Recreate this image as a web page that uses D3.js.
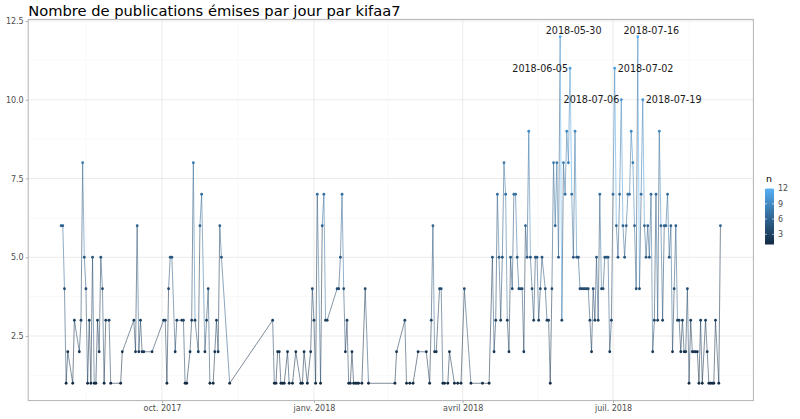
<!DOCTYPE html>
<html><head><meta charset="utf-8">
<script src="https://cdn.jsdelivr.net/npm/d3@7"></script>
<style>body{margin:0;background:#fff}svg{display:block;font-family:"DejaVu Sans",sans-serif}</style>
</head><body><svg id="c" width="800" height="419"></svg>
<script>
const dates = ["2017-08-01","2017-08-02","2017-08-03","2017-08-04","2017-08-05","2017-08-08","2017-08-09","2017-08-12","2017-08-13","2017-08-14","2017-08-15","2017-08-16","2017-08-17","2017-08-18","2017-08-19","2017-08-20","2017-08-21","2017-08-22","2017-08-23","2017-08-24","2017-08-25","2017-08-26","2017-08-27","2017-08-28","2017-08-30","2017-08-31","2017-09-06","2017-09-07","2017-09-14","2017-09-15","2017-09-16","2017-09-17","2017-09-18","2017-09-19","2017-09-20","2017-09-25","2017-10-02","2017-10-03","2017-10-04","2017-10-05","2017-10-06","2017-10-07","2017-10-09","2017-10-10","2017-10-13","2017-10-14","2017-10-15","2017-10-16","2017-10-18","2017-10-19","2017-10-20","2017-10-21","2017-10-23","2017-10-24","2017-10-25","2017-10-27","2017-10-28","2017-10-29","2017-10-30","2017-11-01","2017-11-02","2017-11-03","2017-11-04","2017-11-05","2017-11-06","2017-11-11","2017-12-07","2017-12-08","2017-12-09","2017-12-10","2017-12-11","2017-12-12","2017-12-13","2017-12-14","2017-12-16","2017-12-17","2017-12-19","2017-12-21","2017-12-24","2017-12-25","2017-12-26","2017-12-28","2017-12-30","2017-12-31","2018-01-01","2018-01-02","2018-01-03","2018-01-05","2018-01-06","2018-01-07","2018-01-08","2018-01-09","2018-01-15","2018-01-16","2018-01-17","2018-01-18","2018-01-19","2018-01-20","2018-01-21","2018-01-22","2018-01-23","2018-01-24","2018-01-25","2018-01-26","2018-01-27","2018-01-28","2018-01-30","2018-02-01","2018-02-03","2018-02-19","2018-02-20","2018-02-25","2018-02-26","2018-02-28","2018-03-02","2018-03-05","2018-03-10","2018-03-12","2018-03-13","2018-03-14","2018-03-15","2018-03-16","2018-03-18","2018-03-19","2018-03-20","2018-03-21","2018-03-23","2018-03-24","2018-03-27","2018-03-29","2018-03-31","2018-04-02","2018-04-06","2018-04-13","2018-04-17","2018-04-19","2018-04-20","2018-04-21","2018-04-22","2018-04-23","2018-04-24","2018-04-25","2018-04-26","2018-04-27","2018-04-28","2018-04-29","2018-04-30","2018-05-01","2018-05-02","2018-05-03","2018-05-04","2018-05-05","2018-05-06","2018-05-07","2018-05-08","2018-05-09","2018-05-10","2018-05-11","2018-05-12","2018-05-13","2018-05-14","2018-05-15","2018-05-16","2018-05-17","2018-05-18","2018-05-19","2018-05-21","2018-05-22","2018-05-23","2018-05-24","2018-05-25","2018-05-26","2018-05-27","2018-05-28","2018-05-29","2018-05-30","2018-05-31","2018-06-01","2018-06-02","2018-06-03","2018-06-04","2018-06-05","2018-06-06","2018-06-07","2018-06-08","2018-06-09","2018-06-10","2018-06-11","2018-06-12","2018-06-13","2018-06-14","2018-06-15","2018-06-16","2018-06-17","2018-06-18","2018-06-19","2018-06-20","2018-06-21","2018-06-22","2018-06-23","2018-06-24","2018-06-25","2018-06-26","2018-06-27","2018-06-28","2018-06-29","2018-06-30","2018-07-01","2018-07-02","2018-07-03","2018-07-04","2018-07-05","2018-07-06","2018-07-07","2018-07-08","2018-07-09","2018-07-10","2018-07-11","2018-07-12","2018-07-13","2018-07-14","2018-07-15","2018-07-16","2018-07-17","2018-07-18","2018-07-19","2018-07-20","2018-07-21","2018-07-22","2018-07-23","2018-07-24","2018-07-25","2018-07-26","2018-07-27","2018-07-28","2018-07-29","2018-07-30","2018-07-31","2018-08-01","2018-08-02","2018-08-03","2018-08-04","2018-08-05","2018-08-06","2018-08-07","2018-08-08","2018-08-09","2018-08-10","2018-08-11","2018-08-12","2018-08-13","2018-08-14","2018-08-15","2018-08-16","2018-08-17","2018-08-18","2018-08-19","2018-08-20","2018-08-21","2018-08-22","2018-08-23","2018-08-24","2018-08-26","2018-08-27","2018-08-28","2018-08-29","2018-08-30","2018-08-31","2018-09-01","2018-09-03","2018-09-04"];
const counts = [6,6,4,1,2,1,3,2,3,8,5,4,1,3,1,5,1,1,3,2,5,4,1,3,3,1,1,2,3,2,6,2,3,2,2,2,3,3,1,4,5,5,2,3,3,3,1,1,2,3,8,3,2,6,7,2,3,4,1,1,2,3,2,6,5,1,3,1,1,2,2,1,1,1,2,1,1,2,1,1,2,1,2,4,3,1,7,1,6,7,3,3,4,4,5,7,4,2,3,1,1,2,1,1,1,1,1,4,1,1,2,3,1,1,1,2,2,1,3,6,2,2,4,4,1,1,1,2,1,1,1,4,1,1,1,5,2,3,7,5,3,5,8,7,3,2,5,4,7,7,5,4,4,4,2,6,5,9,5,4,3,5,5,3,4,5,4,3,3,1,4,8,6,8,5,12,3,8,7,9,8,11,7,5,9,5,5,4,4,4,4,4,4,3,2,4,3,5,3,7,4,4,5,5,5,2,3,7,11,6,5,7,10,6,5,6,7,7,9,8,6,4,12,4,7,10,6,5,6,5,7,2,3,7,3,9,6,3,6,6,7,5,6,2,4,6,3,3,2,3,2,2,4,1,3,2,2,2,2,1,3,1,3,2,1,1,1,1,3,1,6];
const labelDates = ["2018-05-30","2018-06-05","2018-07-02","2018-07-06","2018-07-16","2018-07-19"];
const labelAnchors = ["middle","end","start","end","middle","start"];
const xTickDates = ["2017-10-01","2018-01-01","2018-04-01","2018-07-01"];
const xTickLabels = ["oct. 2017","janv. 2018","avril 2018","juil. 2018"];
const yTicks = [2.5,5,7.5,10,12.5];
const yTickLabels = ["2.5","5.0","7.5","10.0","12.5"];
const legendTicks = [3,6,9,12];
const titleText = "Nombre de publications émises par jour par kifaa7";

const parse = d3.utcParse("%Y-%m-%d");
const data = dates.map((d,i)=>({date:parse(d), n:counts[i], key:d}));
const svg = d3.select("#c");
const P = {l:28.2, r:753.4, t:19.4, b:400.6};

const ext = d3.extent(data, d=>d.date);
const span = ext[1]-ext[0];
const x = d3.scaleUtc().domain([new Date(+ext[0]-0.05*span), new Date(+ext[1]+0.05*span)]).range([P.l,P.r]);
const yExt = d3.extent(counts), ys = yExt[1]-yExt[0];
const y = d3.scaleLinear().domain([yExt[0]-0.05*ys, yExt[1]+0.05*ys]).range([P.b,P.t]);
const color = d3.scaleLinear().domain([yExt[0], yExt[1]]).range(["#132B43","#56B1F7"]).interpolate(d3.interpolateLab);

// grid
const g = svg.append("g");
const majorX = xTickDates.map(parse);
const allMajor = [parse("2017-07-01"), ...majorX, parse("2018-10-01")];
const minorX = d3.pairs(allMajor).map(([a,b])=>new Date((+a + +b)/2)).filter(d=>d>=x.domain()[0]&&d<=x.domain()[1]);
const minorY = [1.25,3.75,6.25,8.75,11.25];
g.selectAll(".mnx").data(minorX).join("line").attr("x1",d=>x(d)).attr("x2",d=>x(d)).attr("y1",P.t).attr("y2",P.b).attr("stroke","#f2f2f2").attr("stroke-width",0.5);
g.selectAll(".mny").data(minorY).join("line").attr("y1",d=>y(d)).attr("y2",d=>y(d)).attr("x1",P.l).attr("x2",P.r).attr("stroke","#f2f2f2").attr("stroke-width",0.5);
g.selectAll(".mjx").data(majorX).join("line").attr("x1",d=>x(d)).attr("x2",d=>x(d)).attr("y1",P.t).attr("y2",P.b).attr("stroke","#e6e6e6").attr("stroke-width",0.8);
g.selectAll(".mjy").data(yTicks).join("line").attr("y1",d=>y(d)).attr("y2",d=>y(d)).attr("x1",P.l).attr("x2",P.r).attr("stroke","#e6e6e6").attr("stroke-width",0.8);

// lines (segment coloured by starting value)
const segs = d3.pairs(data);
svg.append("g").selectAll("line").data(segs).join("line")
  .attr("x1",d=>x(d[0].date)).attr("y1",d=>y(d[0].n)).attr("x2",d=>x(d[1].date)).attr("y2",d=>y(d[1].n))
  .attr("stroke",d=>color(d[0].n)).attr("stroke-width",0.6).attr("stroke-opacity",0.9);
svg.append("g").selectAll("circle").data(data).join("circle")
  .attr("cx",d=>x(d.date)).attr("cy",d=>y(d.n)).attr("r",1.4).attr("fill",d=>color(d.n));

// labels
const lab = labelDates.map((k,i)=>({d:data.find(e=>e.key===k), a:labelAnchors[i], k}));
svg.append("g").selectAll("text").data(lab).join("text")
  .attr("x",d=>x(d.d.date)+(d.a==="start"?3:d.a==="end"?-2:13.5))
  .attr("y",d=>y(d.d.n)+(d.a==="middle"?-6:0))
  .attr("dy","0.35em").attr("text-anchor",d=>d.a).attr("font-size",9.6).attr("fill","#1a1a1a").text(d=>d.k);

// panel border
svg.append("rect").attr("x",P.l).attr("y",P.t).attr("width",P.r-P.l).attr("height",P.b-P.t).attr("fill","none").attr("stroke","#b3b3b3").attr("stroke-width",1);

// axes
const ax = svg.append("g").attr("transform",`translate(0,${P.b})`)
  .call(d3.axisBottom(x).tickValues(majorX).tickFormat((d,i)=>xTickLabels[i]).tickSize(2.5).tickPadding(2));
const ay = svg.append("g").attr("transform",`translate(${P.l},0)`)
  .call(d3.axisLeft(y).tickValues(yTicks).tickFormat((d,i)=>yTickLabels[i]).tickSize(2.5).tickPadding(2));
[ax,ay].forEach(a=>{a.select(".domain").remove();a.selectAll(".tick line").attr("stroke","#b3b3b3");
  a.selectAll(".tick text").attr("fill","#4d4d4d").attr("font-size",8).attr("font-family","DejaVu Sans");});

// title
svg.append("text").attr("x",P.l).attr("y",15.5).attr("font-size",14.7).attr("fill","#000").text(titleText);

// legend
const L = {x:765, w:9, top:188.5, bot:244.5};
const defs = svg.append("defs");
const grad = defs.append("linearGradient").attr("id","gr").attr("x1",0).attr("y1",1).attr("x2",0).attr("y2",0);
d3.range(0,1.0001,0.1).forEach(t=>grad.append("stop").attr("offset",t).attr("stop-color",color(yExt[0]+t*(yExt[1]-yExt[0]))));
svg.append("rect").attr("x",L.x).attr("y",L.top).attr("width",L.w).attr("height",L.bot-L.top).attr("fill","url(#gr)");
const ly = d3.scaleLinear().domain([yExt[0],yExt[1]]).range([L.bot,L.top]);
const lg = svg.append("g");
lg.selectAll(".tk").data(legendTicks).join("g").each(function(v){
  const s=d3.select(this);
  s.append("line").attr("x1",L.x).attr("x2",L.x+2).attr("y1",ly(v)).attr("y2",ly(v)).attr("stroke","#fff").attr("stroke-width",0.6);
  s.append("line").attr("x1",L.x+L.w-2).attr("x2",L.x+L.w).attr("y1",ly(v)).attr("y2",ly(v)).attr("stroke","#fff").attr("stroke-width",0.6);
  s.append("text").attr("x",L.x+L.w+4).attr("y",ly(v)).attr("dy","0.35em").attr("font-size",8).attr("fill","#4d4d4d").text(v);
});
svg.append("text").attr("x",L.x+1).attr("y",181.5).attr("font-size",9.5).attr("fill","#000").text("n");
</script></body></html>
